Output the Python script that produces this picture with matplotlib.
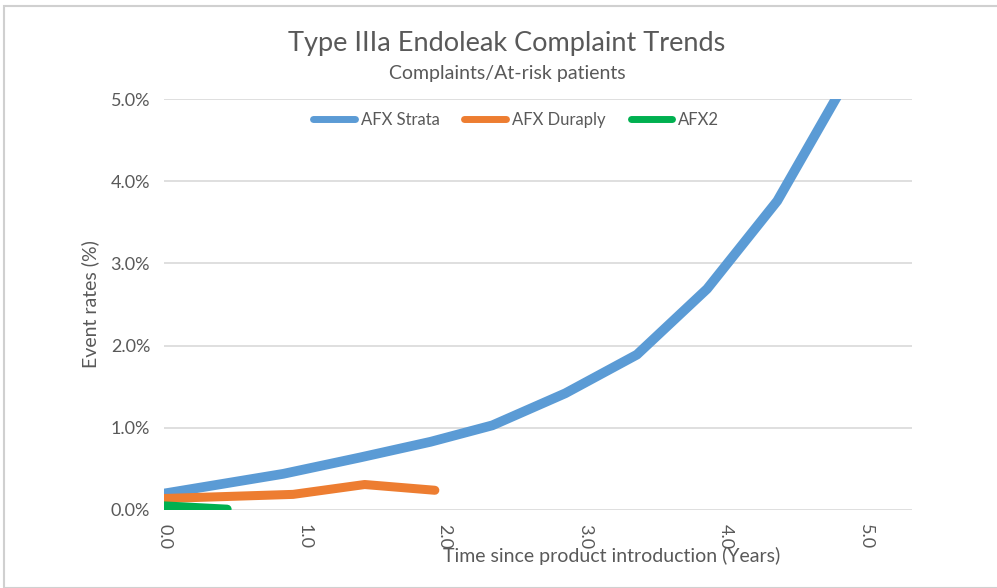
import matplotlib
matplotlib.use('Agg')
import matplotlib.pyplot as plt
from matplotlib.patches import Rectangle

# DATA ================================================================
strata_years = [0.0, 0.85, 1.4, 1.9, 2.34, 2.86, 3.37, 3.87, 4.37, 4.87]
strata_rate = [0.20, 0.44, 0.64, 0.83, 1.03, 1.42, 1.89, 2.69, 3.76, 5.25]

duraply_years = [0.0, 0.92, 1.43, 1.93]
duraply_rate = [0.14, 0.19, 0.31, 0.24]

afx2_years = [0.0, 0.45]
afx2_rate = [0.05, 0.01]

x_ticks = [0.0, 1.0, 2.0, 3.0, 4.0, 5.0]
y_ticks = [0.0, 1.0, 2.0, 3.0, 4.0, 5.0]

# STYLE ===============================================================
plt.rcParams['font.family'] = ['Lato', 'DejaVu Sans']
GREY = '#595959'
GRID = '#d9d9d9'

fig = plt.figure(figsize=(9.97, 5.88), dpi=100)
ax = fig.add_axes([164 / 997, 1 - 510 / 588, (912 - 164) / 997, (510 - 99) / 588])

ax.plot(strata_years, strata_rate, color='#5B9BD5', lw=7.0,
        solid_capstyle='round', solid_joinstyle='round', label='AFX Strata')
ax.plot(duraply_years, duraply_rate, color='#ED7D31', lw=6.5,
        solid_capstyle='round', solid_joinstyle='round', label='AFX Duraply')
ax.plot(afx2_years, afx2_rate, color='#00B050', lw=6.5,
        solid_capstyle='round', solid_joinstyle='round', label='AFX2')

ax.set_xlim(0, 5.33)
ax.set_ylim(0, 5.0)
ax.set_xticks(x_ticks)
ax.set_xticklabels([f'{v:.1f}' for v in x_ticks], rotation=-90, fontsize=13, color=GREY)
ax.set_yticks(y_ticks)
ax.set_yticklabels([f'{v:.1f}%' for v in y_ticks], fontsize=13, color=GREY)
ax.tick_params(length=0, pad=10)
ax.grid(axis='y', color=GRID, lw=1.2)
ax.set_axisbelow(True)
for s in ax.spines.values():
    s.set_visible(False)

ax.set_ylabel('Event rates (%)', fontsize=14, color=GREY, labelpad=8)

fig.text(612 / 997, 1 - 556 / 588, 'Time since product introduction (Years)',
         ha='center', va='center', fontsize=14, color=GREY)
fig.text(507 / 997, 1 - 44 / 588, 'Type IIIa Endoleak Complaint Trends',
         ha='center', va='center', fontsize=19.5, color=GREY)
fig.text(507 / 997, 1 - 74 / 588, 'Complaints/At-risk patients',
         ha='center', va='center', fontsize=14, color=GREY)

leg = fig.legend(loc='center', bbox_to_anchor=(516 / 997, 1 - 120 / 588), ncol=3,
                 frameon=False, fontsize=12, handlelength=2.5, handletextpad=0.35,
                 columnspacing=1.5, labelcolor=GREY)
for line in leg.get_lines():
    line.set_linewidth(5)
    line.set_solid_capstyle('round')

# chart border
fig.patches.append(Rectangle((4 / 997, 0), 1, 1 - 6 / 588, transform=fig.transFigure,
                             fill=False, edgecolor='#d0d0d0', lw=1.5))

fig.savefig('out.png', dpi=100)
